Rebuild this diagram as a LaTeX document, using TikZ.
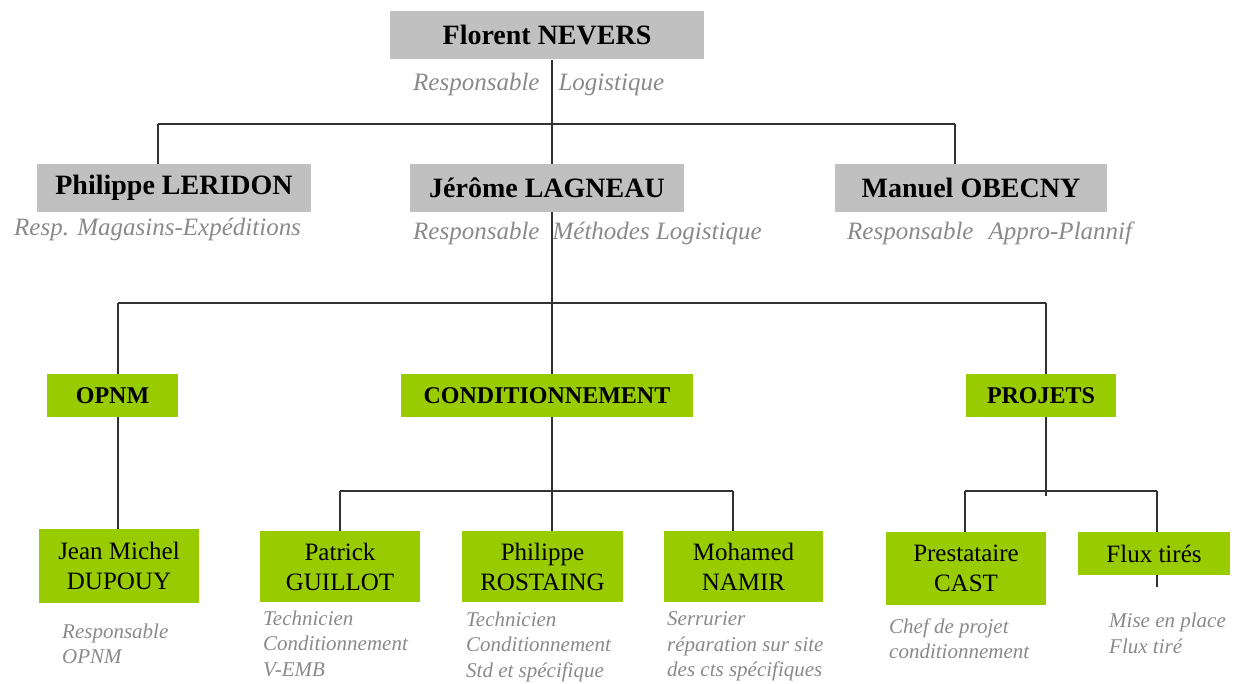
\documentclass[tikz,border=0pt]{standalone}
\usepackage{fontspec}
\setmainfont{Liberation Serif}
\definecolor{boxgray}{RGB}{192,192,192}
\definecolor{boxgreen}{RGB}{153,204,0}
\definecolor{subgray}{RGB}{138,138,138}
\definecolor{linegray}{RGB}{50,50,50}
\begin{document}
\begin{tikzpicture}[x=1pt,y=-1pt,
  graybox/.style={fill=boxgray, draw=none, minimum height=48pt, inner sep=0pt, font=\fontsize{28}{30}\selectfont\bfseries},
  greenhead/.style={fill=boxgreen, draw=none, minimum height=43pt, inner sep=0pt, font=\fontsize{24}{26}\selectfont\bfseries},
  greenname/.style={fill=boxgreen, draw=none, inner sep=0pt, align=center, font=\fontsize{25}{30}\selectfont},
  subtop/.style={anchor=base west, inner sep=0pt, text=subgray, font=\fontsize{25}{30}\selectfont\itshape},
  sublow/.style={anchor=north west, inner sep=0pt, align=left, text=subgray, font=\fontsize{21}{25.5}\selectfont\itshape},
  conn/.style={draw=linegray, line width=1.2pt}]
\useasboundingbox (0,0) rectangle (1234,684);
\fill[white] (0,0) rectangle (1234,684);

% level 1 and 2
\node[graybox, minimum width=314pt] (nevers) at (547,35.5) {Florent NEVERS};
\node[graybox, minimum width=274pt] (leridon) at (174,188) {Philippe LERIDON};
\node[graybox, minimum width=274pt] (lagneau) at (547,188) {Jérôme LAGNEAU};
\node[graybox, minimum width=272pt] (obecny) at (971,188) {Manuel OBECNY};

\node[subtop] (neverssub) at (413,91) {Responsable\hspace{19pt}Logistique};
\node[subtop] (leridonsub) at (14,236) {Resp. Magasins-Expéditions};
\node[subtop] (lagneausub) at (413,240) {Responsable\hspace{13pt}Méthodes Logistique};
\node[subtop] (obecnysub) at (847,240) {Responsable\hspace{15pt}Appro-Plannif};

% level 3
\node[greenhead, minimum width=131pt] (opnm) at (112.5,395.5) {OPNM};
\node[greenhead, minimum width=292pt] (cond) at (547,395.5) {CONDITIONNEMENT};
\node[greenhead, minimum width=150pt] (projets) at (1041,395.5) {PROJETS};

% level 4
\node[greenname, minimum width=160pt, minimum height=74pt] (dupouy) at (119,566) {Jean Michel\\DUPOUY};
\node[greenname, minimum width=160pt, minimum height=71pt] (guillot) at (340,566.5) {Patrick\\GUILLOT};
\node[greenname, minimum width=161pt, minimum height=71pt] (rostaing) at (542.5,566.5) {Philippe\\ROSTAING};
\node[greenname, minimum width=159pt, minimum height=71pt] (namir) at (743.5,566.5) {Mohamed\\NAMIR};
\node[greenname, minimum width=160pt, minimum height=73pt] (cast) at (966,568.5) {Prestataire\\CAST};
\node[greenname, minimum width=152pt, minimum height=43pt] (flux) at (1154,553.5) {Flux tirés};

\node[sublow] (dupouysub) at (62,623.5) {Responsable\\OPNM};
\node[sublow] (guillotsub) at (263,610.5) {Technicien\\Conditionnement\\V-EMB};
\node[sublow] (rostaingsub) at (466,611.5) {Technicien\\Conditionnement\\Std et spécifique};
\node[sublow] (namirsub) at (667,611.5) {Serrurier\\réparation sur site\\des cts spécifiques};
\node[sublow] (castsub) at (889,618.5) {Chef de projet\\conditionnement};
\node[sublow, font=\fontsize{21}{26.5}\selectfont\itshape] (fluxsub) at (1109,612.5) {Mise en place\\Flux tiré};

% junctions
\coordinate (t1) at (552,124);
\coordinate (t1l) at (158,124);
\coordinate (t1r) at (955,124);
\coordinate (t2) at (552,303);
\coordinate (t2l) at (118,303);
\coordinate (t2r) at (1046,303);
\coordinate (t3) at (552,491);
\coordinate (t3l) at (340,491);
\coordinate (t3r) at (733,491);
\coordinate (t4) at (1046,496);
\coordinate (t4l) at (965,491);
\coordinate (t4r) at (1157,491);
\coordinate (fluxend) at (1157,587);

% connectors
\draw[conn] (nevers.south -| t1) -- (t1);
\draw[conn] (t1l) -- (t1r);
\draw[conn] (t1l) -- (leridon.north -| t1l);
\draw[conn] (t1) -- (lagneau.north -| t1);
\draw[conn] (t1r) -- (obecny.north -| t1r);

\draw[conn] (lagneau.south -| t2) -- (t2);
\draw[conn] (t2l) -- (t2r);
\draw[conn] (t2l) -- (opnm.north -| t2l);
\draw[conn] (t2) -- (cond.north -| t2);
\draw[conn] (t2r) -- (projets.north -| t2r);

\draw[conn] (opnm.south -| t2l) -- (dupouy.north -| t2l);

\draw[conn] (cond.south -| t3) -- (t3);
\draw[conn] (t3l) -- (t3r);
\draw[conn] (t3l) -- (guillot.north -| t3l);
\draw[conn] (t3) -- (rostaing.north -| t3);
\draw[conn] (t3r) -- (namir.north -| t3r);

\draw[conn] (projets.south -| t4) -- (t4);
\draw[conn] (t4l) -- (t4r);
\draw[conn] (t4l) -- (cast.north -| t4l);
\draw[conn] (t4r) -- (flux.north -| t4r);
\draw[conn] (flux.south -| t4r) -- (fluxend);
\end{tikzpicture}
\end{document}
